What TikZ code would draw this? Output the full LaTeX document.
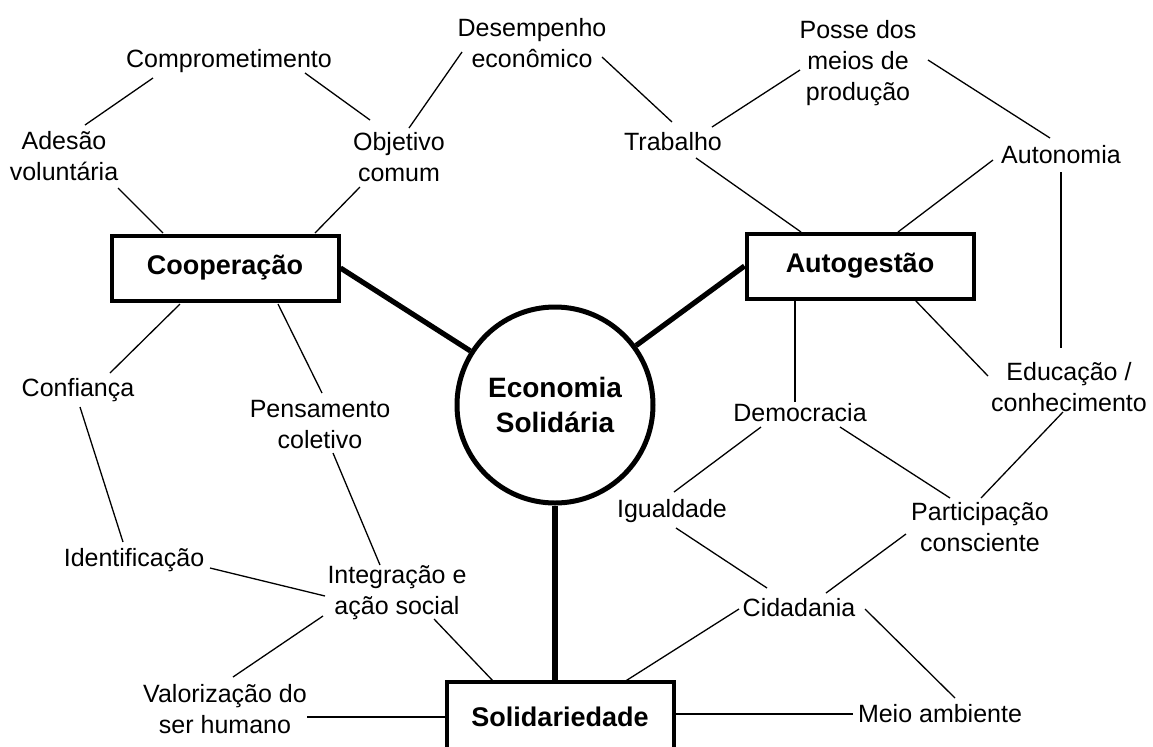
\documentclass[tikz,border=0pt]{standalone}
\usepackage{fontspec}
\setmainfont{Liberation Sans}
\usetikzlibrary{calc}

\tikzset{
  idea/.style={align=center, inner sep=0pt, font=\fontsize{12.5}{15.5}\selectfont},
  pillar/.style={draw, line width=2pt, minimum width=113.5pt, minimum height=32.5pt, inner sep=0pt,
    font=\fontsize{13.5}{16}\selectfont\bfseries},
  core/.style={draw, circle, line width=2.5pt, minimum size=98pt, inner sep=0pt, align=center,
    font=\fontsize{14}{17.5}\selectfont\bfseries},
  link/.style={line width=0.65pt},
  bond/.style={line width=2.6pt},
}

\begin{document}
\begin{tikzpicture}[x=0.5pt, y=-0.5pt]
\useasboundingbox (0,0) rectangle (1153,746);

% centre and the three pillars
\node[core] (eco) at (555,405) {Economia\\Solidária};
\node[pillar] (coop) at (225,268) {Cooperação};
\node[pillar] (autog) at (860,266) {Autogestão};
\node[pillar, minimum height=35pt] (solid) at (560,717) {Solidariedade};

% ideas
\node[idea] (comp) at (229,61) {Comprometimento};
\node[idea] (ades) at (64,156) {Adesão\\voluntária};
\node[idea] (obj) at (399,157) {Objetivo\\comum};
\node[idea] (des) at (532,43) {Desempenho\\econômico};
\node[idea] (posse) at (858,63) {Posse dos\\meios de\\produção};
\node[idea] (trab) at (673,142) {Trabalho};
\node[idea] (auton) at (1061,155) {Autonomia};
\node[idea] (conf) at (78,390) {Confiança};
\node[idea] (pens) at (320,425) {Pensamento\\coletivo};
\node[idea] (educ) at (1069,387) {Educação /\\conhecimento};
\node[idea] (demo) at (800,413) {Democracia};
\node[idea] (igual) at (672,511) {Igualdade};
\node[idea] (part) at (980,527) {Participação\\consciente};
\node[idea] (ident) at (134,560) {Identificação};
\node[idea] (integ) at (397,593) {Integração e\\ação social};
\node[idea] (cid) at (799,608) {Cidadania};
\node[idea] (valor) at (225,709) {Valorização do\\ser humano};
\node[idea] (meio) at (940,714) {Meio ambiente};

% thick bonds to the centre
\draw[bond] (coop.east) -- (eco);
\draw[bond] (eco) -- (autog.west);
\draw[bond] (eco) -- (eco |- solid.north);

% cooperacao side
\draw[link] ($(comp)+(-76,17)$) -- ($(ades)+(21,-31)$);
\draw[link] ($(comp)+(76,12)$) -- ($(obj)+(-29,-37)$);
\draw[link] ($(obj)+(10,-29)$) -- ($(des)+(-70,9)$);
\draw[link] ($(ades)+(54,32)$) -- ($(coop)+(-62,-35)$);
\draw[link] ($(obj)+(-39,30)$) -- ($(coop)+(90,-35)$);
\draw[link] ($(coop)+(-45,36)$) -- ($(conf)+(32,-17)$);
\draw[link] ($(coop)+(53,36)$) -- ($(pens)+(2,-32)$);
\draw[link] ($(conf)+(2,17)$) -- ($(ident)+(-11,-18)$);
\draw[link] ($(pens)+(13,28)$) -- ($(integ)+(-17,-28)$);
\draw[link] ($(ident)+(76,8)$) -- ($(integ)+(-72,3)$);
\draw[link] ($(integ)+(-74,23)$) -- ($(valor)+(8,-32)$);

% autogestao side
\draw[link] ($(des)+(70,14)$) -- ($(trab)+(-1,-20)$);
\draw[link] ($(trab)+(39,-15)$) -- ($(posse)+(-58,7)$);
\draw[link] ($(posse)+(70,-3)$) -- ($(auton)+(-11,-17)$);
\draw[link] ($(trab)+(23,16)$) -- ($(autog)+(-59,-34)$);
\draw[link] ($(auton)+(-68,5)$) -- ($(autog)+(38,-34)$);
\draw[link] ($(auton)+(0,17)$) -- ($(educ)+(-8,-39)$);
\draw[link] ($(autog)+(55,34)$) -- ($(educ)+(-81,-11)$);
\draw[link] ($(autog)+(-65,34)$) -- ($(demo)+(-5,-11)$);
\draw[link] ($(demo)+(-39,14)$) -- ($(igual)+(2,-19)$);
\draw[link] ($(demo)+(40,14)$) -- ($(part)+(-30,-29)$);
\draw[link] ($(educ)+(-6,25)$) -- ($(part)+(1,-29)$);

% solidariedade side
\draw[link] ($(igual)+(4,17)$) -- ($(cid)+(-32,-20)$);
\draw[link] ($(part)+(-74,7)$) -- ($(cid)+(27,-15)$);
\draw[link] ($(cid)+(66,1)$) -- ($(meio)+(15,-16)$);
\draw[link] ($(cid)+(-60,1)$) -- ($(solid)+(64,-35)$);
\draw[link] ($(integ)+(37,26)$) -- ($(solid)+(-66,-35)$);
\draw[link, shorten >=2.5pt] (solid.east |- meio) -- (meio);
\draw[link] (valor.east |- solid) -- (solid);
\end{tikzpicture}
\end{document}
